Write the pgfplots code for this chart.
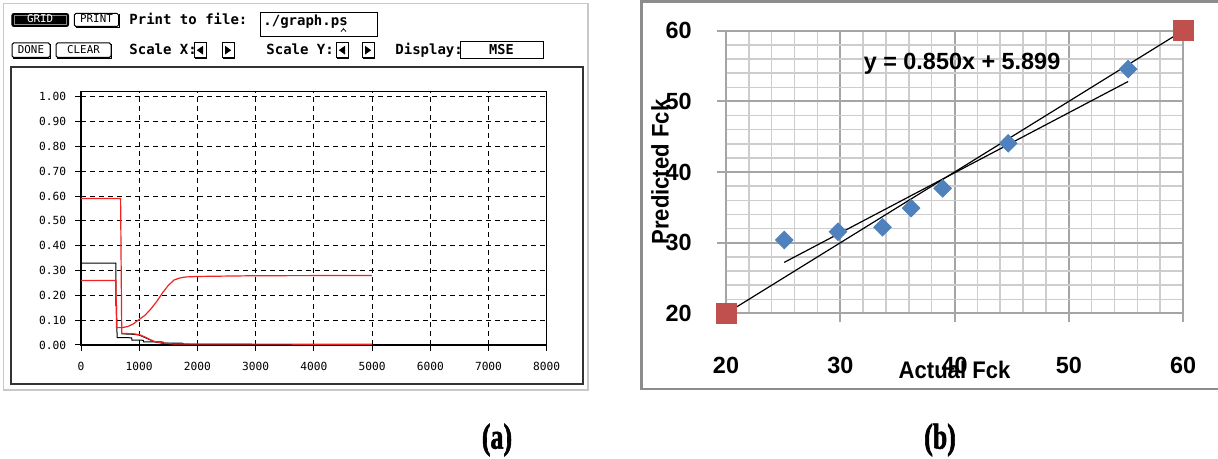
\documentclass[border=0pt]{standalone}
\usepackage{pgfplots}
\pgfplotsset{compat=1.18}
\usepackage{fontspec}
\setmainfont{Liberation Sans}
\newfontfamily\mono{DejaVu Sans Mono}
\newfontfamily\arial{Liberation Sans}
\newfontfamily\arialn[FakeStretch=0.92]{Liberation Sans}
\newfontfamily\timesn[FakeStretch=0.72,FakeBold=1.6]{Liberation Serif Bold}
\definecolor{exblue}{RGB}{79,129,189}
\definecolor{exred}{RGB}{192,80,77}
\definecolor{gmaj}{RGB}{165,165,165}
\definecolor{gmin}{RGB}{205,205,205}
\definecolor{pred}{RGB}{240,35,35}
\definecolor{lgray}{RGB}{200,200,200}
\definecolor{fgray}{RGB}{140,140,140}
\begin{document}
\begin{tikzpicture}
\path[use as bounding box] (0,0) rectangle (609pt,229.5pt);
\begin{scope}[x=0.5pt,y=-0.5pt,yshift=229.5pt]
% ---------- panel (a) window ----------
\draw[lgray, line width=0.9pt] (3.5,3.5) rectangle (588,390);
\draw[black!80, line width=0.7pt] (11,67) rectangle (583,384);
% row 1
\draw[fill=black, rounded corners=1pt] (11.8,13.5) rectangle (68.6,26.5);
\draw[black!45, line width=0.3pt] (14,15.5) rectangle (66.5,24.5);
\node[anchor=base, inner sep=0pt, text=white, font=\mono\fontsize{5.4pt}{6pt}\selectfont] at (40.2,23) {GRID};
\draw[line width=0.5pt, rounded corners=0.8pt] (74.3,13.5) rectangle (118.6,26.5);
\draw[line width=0.5pt] (75.5,27.2) -- (119.3,27.2) -- (119.3,14.5);
\node[anchor=base, inner sep=0pt, font=\mono\fontsize{5.4pt}{6pt}\selectfont] at (96.5,23) {PRINT};
\node[anchor=base west, inner sep=0pt, font=\mono\bfseries\fontsize{7pt}{7pt}\selectfont] at (129,25) {Print to file:};
\draw[line width=0.5pt] (260,12.9) rectangle (377.5,36.8);
\node[anchor=base west, inner sep=0pt, font=\mono\bfseries\fontsize{7pt}{7pt}\selectfont] at (263,26) {./graph.ps};
\draw[line width=0.4pt] (341,31.5) -- (343.5,28.8) -- (346,31.5);
% row 2
\draw[line width=0.5pt, rounded corners=0.8pt] (12,43) rectangle (50,57.5);
\draw[line width=0.5pt] (13,58.2) -- (50.7,58.2) -- (50.7,44);
\node[anchor=base, inner sep=0pt, font=\mono\fontsize{5.4pt}{6pt}\selectfont] at (31,53.5) {DONE};
\draw[line width=0.5pt, rounded corners=0.8pt] (56,43) rectangle (111,57.5);
\draw[line width=0.5pt] (57,58.2) -- (111.7,58.2) -- (111.7,44);
\node[anchor=base, inner sep=0pt, font=\mono\fontsize{5.4pt}{6pt}\selectfont] at (83.5,53.5) {CLEAR};
\node[anchor=base west, inner sep=0pt, font=\mono\bfseries\fontsize{7pt}{7pt}\selectfont] at (129,55) {Scale X:};
\node[anchor=base west, inner sep=0pt, font=\mono\bfseries\fontsize{7pt}{7pt}\selectfont] at (266,55) {Scale Y:};
\node[anchor=base west, inner sep=0pt, font=\mono\bfseries\fontsize{7pt}{7pt}\selectfont] at (395,55) {Display:};
\foreach \bx in {194,336}{
  \draw[line width=0.5pt] (\bx,43) rectangle (\bx+12,57.5);
  \draw[line width=0.5pt] (\bx+1,58.2) -- (\bx+12.7,58.2) -- (\bx+12.7,44);
  \fill (\bx+2.8,50.2) -- (\bx+9,45.8) -- (\bx+9,54.6) -- cycle;
}
\foreach \bx in {222,362}{
  \draw[line width=0.5pt] (\bx,43) rectangle (\bx+12,57.5);
  \draw[line width=0.5pt] (\bx+1,58.2) -- (\bx+12.7,58.2) -- (\bx+12.7,44);
  \fill (\bx+9.2,50.2) -- (\bx+3,45.8) -- (\bx+3,54.6) -- cycle;
}
\draw[line width=0.5pt] (460,42) rectangle (543,59);
\node[anchor=base, inner sep=0pt, font=\mono\bfseries\fontsize{6.8pt}{7pt}\selectfont] at (501.5,54.5) {MSE};
% ---------- panel (b) frame ----------
\draw[fgray, line width=1.1pt] (641.5,1.5) rectangle (1230,389);
% ---------- captions ----------
\node[font=\timesn\fontsize{18pt}{18pt}\selectfont] at (497,440) {(a)};
\node[font=\timesn\fontsize{18pt}{18pt}\selectfont] at (940,440) {(b)};
\end{scope}

% ---------- axis (a) ----------
\begin{axis}[
  at={(40.5pt,57pt)}, anchor=south west,
  scale only axis, width=232.85pt, height=126.65pt,
  xmin=0, xmax=8000, ymin=0, ymax=1.0201,
  xtick={0,1000,2000,3000,4000,5000,6000,7000,8000},
  xticklabels={0,1000,2000,3000,4000,5000,6000,7000,8000},
  ytick={0,0.1,0.2,0.3,0.4,0.5,0.6,0.7,0.8,0.9,1},
  yticklabels={0.00,0.10,0.20,0.30,0.40,0.50,0.60,0.70,0.80,0.90,1.00},
  scaled x ticks=false, scaled y ticks=false,
  grid=major,
  major grid style={black, line width=0.5pt, dash pattern=on 2.5pt off 2pt},
  axis line style={black, line width=0.6pt},
  tick align=outside, major tick length=3pt,
  tick style={black, line width=0.5pt},
  xtick pos=bottom, ytick pos=left,
  ticklabel style={font=\mono\fontsize{5.6pt}{6pt}\selectfont, inner sep=0pt},
  yticklabel style={anchor=east, xshift=-4.2pt},
  xticklabel style={anchor=north, yshift=-5.5pt},
]
\addplot[black, line width=0.5pt, mark=none] coordinates {
 (0,0.33) (600,0.33) (600,0.16) (610,0.16) (620,0.03) (870,0.029)
 (875,0.02) (1070,0.019) (1075,0.013) (1410,0.012) (1415,0.008) (1750,0.007) (1760,0.002) (5000,0.001)};
\addplot[black, line width=0.5pt, mark=none] coordinates {
 (700,0.045) (900,0.043) (1000,0.04) (1100,0.03) (1250,0.014) (1400,0.007) (1700,0.004) (2000,0.002) (5000,0.001)};
\addplot[pred, line width=0.6pt, mark=none] coordinates {
 (0,0.59) (680,0.59) (690,0.31) (700,0.047) (900,0.045) (1000,0.042) (1100,0.032)
 (1250,0.015) (1400,0.008) (1600,0.004) (5000,0.003)};
\addplot[pred, line width=0.6pt, mark=none] coordinates {
 (0,0.26) (600,0.26) (610,0.07) (700,0.07) (800,0.074) (900,0.085) (1000,0.103)
 (1100,0.12) (1200,0.145) (1300,0.175) (1400,0.21) (1500,0.24) (1600,0.262)
 (1700,0.27) (1800,0.274) (2000,0.276) (3000,0.279) (5000,0.28)};
\end{axis}

% ---------- axis (b) ----------
\begin{axis}[
  at={(363pt,72.75pt)}, anchor=south west,
  scale only axis, width=228.5pt, height=141.4pt,
  xmin=20, xmax=60, ymin=20, ymax=60,
  xtick={20,30,40,50,60}, ytick={20,30,40,50,60},
  xticklabels={20,30,40,50,60}, yticklabels={20,30,40,50,60},
  /pgf/number format/assume math mode=true,
  minor xtick={22,24,26,28,32,34,36,38,42,44,46,48,52,54,56,58},
  minor ytick={22,24,26,28,32,34,36,38,42,44,46,48,52,54,56,58},
  grid=both,
  major grid style={draw=gmaj, line width=1pt},
  minor grid style={draw=gmin, line width=0.75pt},
  axis line style={draw=gmaj, line width=1pt},
  tick align=outside, major tick length=4.5pt, minor tick length=0pt,
  major tick style={draw=gmaj, line width=1pt},
  xtick pos=bottom, ytick pos=left,
  ticklabel style={font=\arial\bfseries\fontsize{11.7pt}{12pt}\selectfont, inner sep=0pt},
  xticklabel style={anchor=base, yshift=-25.5pt},
  yticklabel style={anchor=east, xshift=-12.5pt},
  xlabel={Actual Fck},
  xlabel style={at={(axis description cs:0.5,-0.2)}, anchor=center, inner sep=0pt,
    font=\arialn\bfseries\fontsize{12pt}{12pt}\selectfont},
  ylabel={Predicted Fck},
  ylabel style={at={(axis description cs:-0.1444,0.5)}, anchor=center, inner sep=0pt,
    font=\arialn\bfseries\fontsize{12pt}{12pt}\selectfont},
  clip=false,
]
\addplot[only marks, mark=square*, mark size=3.1pt,
  mark options={rotate=45, fill=exblue, draw=exblue}] coordinates {
 (25.1,30.4) (29.8,31.57) (33.7,32.2) (36.2,34.9) (38.96,37.7) (44.7,44.07) (55.2,54.58)};
\addplot[only marks, mark=square*, mark size=5pt,
  mark options={fill=exred, draw=exred}] coordinates {(20,20) (60,60)};
\addplot[black, line width=0.6pt, mark=none] coordinates {(20,20) (60,60)};
\addplot[black, line width=0.6pt, mark=none] coordinates {(25.1,27.234) (55.2,52.819)};
\node[font=\arial\bfseries\fontsize{11.7pt}{12pt}\selectfont, inner sep=0pt] at (axis cs:40.66,55.39) {y = 0.850x + 5.899};
\end{axis}
\end{tikzpicture}
\end{document}
